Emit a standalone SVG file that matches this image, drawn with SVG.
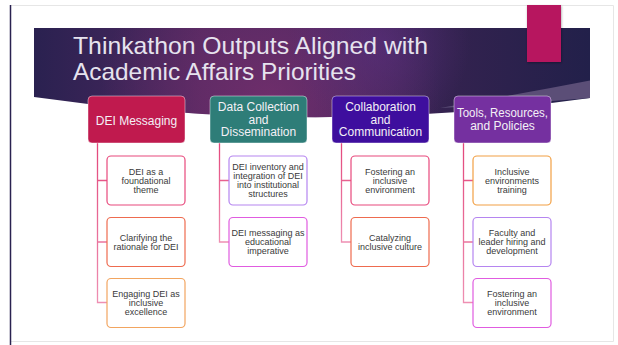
<svg xmlns="http://www.w3.org/2000/svg" width="618" height="345" viewBox="0 0 618 345">
<defs>
<linearGradient id="bannerLin" x1="0" y1="0" x2="1" y2="0">
<stop offset="0" stop-color="#2a2150"/>
<stop offset="0.3" stop-color="#4e2860"/>
<stop offset="0.5" stop-color="#4a2862"/>
<stop offset="0.75" stop-color="#33224f"/>
<stop offset="1" stop-color="#22204a"/>
</linearGradient>
<radialGradient id="glow1" cx="270" cy="100" r="170" gradientUnits="userSpaceOnUse">
<stop offset="0" stop-color="#7a306e" stop-opacity="0.75"/>
<stop offset="1" stop-color="#7a306e" stop-opacity="0"/>
</radialGradient>
<radialGradient id="glow2" cx="380" cy="45" r="90" gradientUnits="userSpaceOnUse">
<stop offset="0" stop-color="#5a3080" stop-opacity="0.6"/>
<stop offset="1" stop-color="#5a3080" stop-opacity="0"/>
</radialGradient>
<linearGradient id="conn" x1="0" y1="0" x2="0" y2="1">
<stop offset="0" stop-color="#e3467b"/>
<stop offset="1" stop-color="#ee8fb2"/>
</linearGradient>
<filter id="sh" x="-20%" y="-20%" width="140%" height="140%">
<feDropShadow dx="0.5" dy="1" stdDeviation="0.8" flood-color="#000" flood-opacity="0.35"/>
</filter>
</defs>
<style>
.hdr{stroke:#ffffff;stroke-opacity:0.55;stroke-width:0.8}
.hdrt{font-family:"Liberation Sans",Arial,sans-serif;font-size:12px;fill:#f4f0f6;text-anchor:middle}
.child{fill:#ffffff;stroke-width:1.2}
.ct{font-family:"Liberation Sans",Arial,sans-serif;font-size:9px;fill:#3a3a3a;text-anchor:middle}
.conn{fill:none;stroke:url(#conn);stroke-width:1.3}
.title{font-family:"Liberation Sans",Arial,sans-serif;font-size:24px;fill:#e6e3ee}
</style>

<!-- slide frame -->
<rect x="0" y="0" width="618" height="345" fill="#ffffff"/>
<path d="M10 5.5 H613.5 V341.5 H10" fill="none" stroke="#e6e6e6" stroke-width="1"/>
<line x1="10.5" y1="5" x2="10.5" y2="345" stroke="#2a2250" stroke-width="1.5"/>

<!-- banner -->
<g id="banner">
<path d="M34 28 H590 V98 Q312 137 34 97 Z" fill="url(#bannerLin)"/>
<path d="M34 28 H590 V98 Q312 137 34 97 Z" fill="url(#glow1)"/>
<path d="M34 28 H590 V98 Q312 137 34 97 Z" fill="url(#glow2)"/>
<path d="M590 80.5 Q520 94 440 108 Q520 104 590 98 Z" fill="#5b4e77"/>
<text class="title" x="73" y="54" textLength="355" lengthAdjust="spacingAndGlyphs">Thinkathon Outputs Aligned with</text>
<text class="title" x="73" y="80" textLength="283" lengthAdjust="spacingAndGlyphs">Academic Affairs Priorities</text>
</g>
<rect id="accent" x="527" y="5" width="34" height="57" fill="#b7145f" filter="url(#sh)"/>

<!-- connectors -->
<g id="connectors">
<path class="conn" d="M97.5 143 V302.5 H107 M97.5 180.5 H107 M97.5 242 H107"/>
<path class="conn" d="M219.5 143 V242 H229 M219.5 180.5 H229"/>
<path class="conn" d="M341.5 143 V242 H351 M341.5 180.5 H351"/>
<path class="conn" d="M463.5 143 V302.5 H473 M463.5 180.5 H473 M463.5 242 H473"/>
</g>

<!-- column 1 -->
<g id="dei-messaging">
<rect class="hdr" x="88" y="96" width="97" height="47" rx="4" fill="#c01a4e"/>
<text class="hdrt" x="136.5" y="124.5">DEI Messaging</text>
</g>
<g id="dei-foundational">
<rect class="child" x="107" y="156" width="78" height="49" rx="4" stroke="#e8497c"/>
<text class="ct" x="146" y="174.5">DEI as a</text>
<text class="ct" x="146" y="183.5">foundational</text>
<text class="ct" x="146" y="192.5">theme</text>
</g>
<g id="dei-rationale">
<rect class="child" x="107" y="217.5" width="78" height="49" rx="4" stroke="#ee6b4f"/>
<text class="ct" x="146" y="240.5">Clarifying the</text>
<text class="ct" x="146" y="249.5">rationale for DEI</text>
</g>
<g id="dei-excellence">
<rect class="child" x="107" y="278.5" width="78" height="49" rx="4" stroke="#f2a560"/>
<text class="ct" x="146" y="297">Engaging DEI as</text>
<text class="ct" x="146" y="306">inclusive</text>
<text class="ct" x="146" y="315">excellence</text>
</g>

<!-- column 2 -->
<g id="data-collection">
<rect class="hdr" x="210" y="96" width="97" height="47" rx="4" fill="#2e7d78"/>
<text class="hdrt" x="258.5" y="111">Data Collection</text>
<text class="hdrt" x="258.5" y="123.5">and</text>
<text class="hdrt" x="258.5" y="136">Dissemination</text>
</g>
<g id="data-inventory">
<rect class="child" x="229" y="156" width="78" height="49" rx="4" stroke="#b585f0"/>
<text class="ct" x="268" y="170">DEI inventory and</text>
<text class="ct" x="268" y="179">integration of DEI</text>
<text class="ct" x="268" y="188">into institutional</text>
<text class="ct" x="268" y="197">structures</text>
</g>
<g id="data-imperative">
<rect class="child" x="229" y="217.5" width="78" height="49" rx="4" stroke="#e05ce0"/>
<text class="ct" x="268" y="236">DEI messaging as</text>
<text class="ct" x="268" y="245">educational</text>
<text class="ct" x="268" y="254">imperative</text>
</g>

<!-- column 3 -->
<g id="collaboration">
<rect class="hdr" x="332" y="96" width="97" height="47" rx="4" fill="#3e0e9e"/>
<text class="hdrt" x="380.5" y="111">Collaboration</text>
<text class="hdrt" x="380.5" y="123.5">and</text>
<text class="hdrt" x="380.5" y="136">Communication</text>
</g>
<g id="collab-fostering">
<rect class="child" x="351" y="156" width="78" height="49" rx="4" stroke="#e8497c"/>
<text class="ct" x="390" y="174.5">Fostering an</text>
<text class="ct" x="390" y="183.5">inclusive</text>
<text class="ct" x="390" y="192.5">environment</text>
</g>
<g id="collab-catalyzing">
<rect class="child" x="351" y="217.5" width="78" height="49" rx="4" stroke="#ee6b4f"/>
<text class="ct" x="390" y="240.5">Catalyzing</text>
<text class="ct" x="390" y="249.5">inclusive culture</text>
</g>

<!-- column 4 -->
<g id="tools">
<rect class="hdr" x="454" y="96" width="97" height="47" rx="4" fill="#7530a0"/>
<text class="hdrt" x="502.5" y="116.5" textLength="91" lengthAdjust="spacingAndGlyphs">Tools, Resources,</text>
<text class="hdrt" x="502.5" y="130">and Policies</text>
</g>
<g id="tools-training">
<rect class="child" x="473" y="156" width="78" height="49" rx="4" stroke="#f2a044"/>
<text class="ct" x="512" y="174.5">Inclusive</text>
<text class="ct" x="512" y="183.5">environments</text>
<text class="ct" x="512" y="192.5">training</text>
</g>
<g id="tools-hiring">
<rect class="child" x="473" y="217.5" width="78" height="49" rx="4" stroke="#b585f0"/>
<text class="ct" x="512" y="236">Faculty and</text>
<text class="ct" x="512" y="245">leader hiring and</text>
<text class="ct" x="512" y="254">development</text>
</g>
<g id="tools-fostering">
<rect class="child" x="473" y="278.5" width="78" height="49" rx="4" stroke="#e05ce0"/>
<text class="ct" x="512" y="297">Fostering an</text>
<text class="ct" x="512" y="306">inclusive</text>
<text class="ct" x="512" y="315">environment</text>
</g>
</svg>
